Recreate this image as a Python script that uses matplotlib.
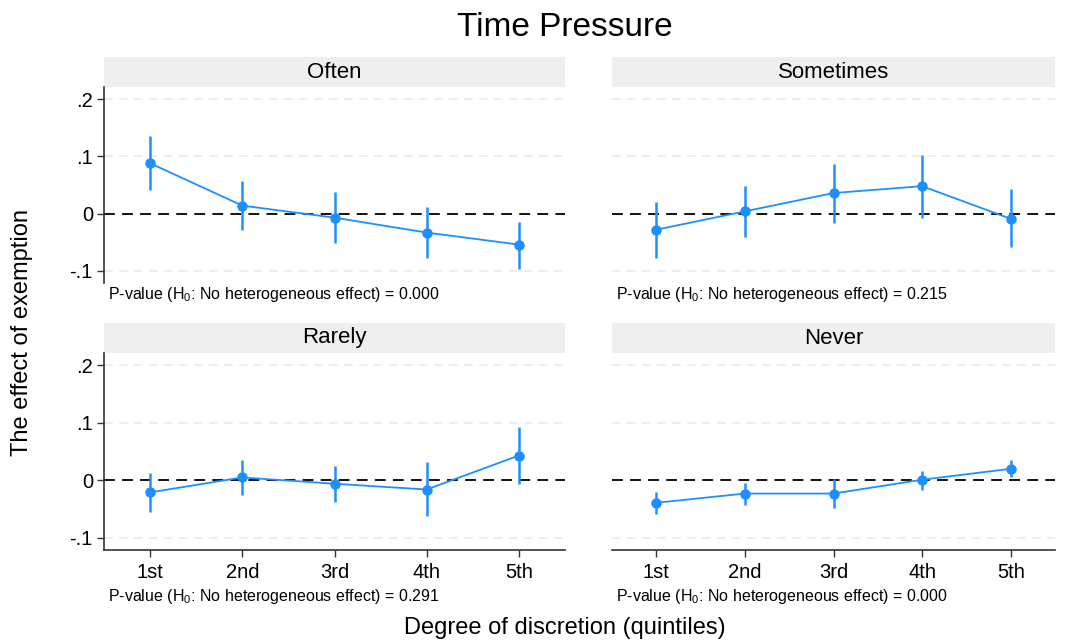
import matplotlib
matplotlib.use("Agg")
import matplotlib.pyplot as plt
import numpy as np

plt.rcParams['font.family'] = ['Liberation Sans', 'DejaVu Sans']
plt.rcParams['mathtext.default'] = 'regular'

quintiles = ["1st", "2nd", "3rd", "4th", "5th"]
panels = ["Often", "Sometimes", "Rarely", "Never"]
pvalues = ["0.000", "0.215", "0.291", "0.000"]

often_est = [0.088, 0.014, -0.007, -0.033, -0.054]
often_lo = [0.041, -0.028, -0.052, -0.078, -0.096]
often_hi = [0.136, 0.057, 0.037, 0.012, -0.014]

sometimes_est = [-0.028, 0.004, 0.036, 0.048, -0.009]
sometimes_lo = [-0.077, -0.040, -0.016, -0.007, -0.059]
sometimes_hi = [0.020, 0.048, 0.086, 0.102, 0.043]

rarely_est = [-0.021, 0.005, -0.006, -0.016, 0.043]
rarely_lo = [-0.055, -0.026, -0.037, -0.062, -0.007]
rarely_hi = [0.013, 0.035, 0.025, 0.031, 0.092]

never_est = [-0.039, -0.023, -0.023, 0.001, 0.020]
never_lo = [-0.058, -0.043, -0.048, -0.017, 0.005]
never_hi = [-0.021, -0.004, 0.003, 0.017, 0.036]

series = [
    (often_est, often_lo, often_hi),
    (sometimes_est, sometimes_lo, sometimes_hi),
    (rarely_est, rarely_lo, rarely_hi),
    (never_est, never_lo, never_hi),
]

yticks = [-0.1, 0, 0.1, 0.2]
ytick_labels = ["-.1", "0", ".1", ".2"]

W, H = 1067, 643
fig = plt.figure(figsize=(W / 100, H / 100), dpi=100)

def fx(px):
    return px / W

def fy(py):
    return 1 - py / H

blue = '#1E8FFF'
cols = [(104, 565), (612, 1055)]
rows = [(57, 87, 283), (323, 353, 550)]

for i, name in enumerate(panels):
    r, c = divmod(i, 2)
    x0, x1 = cols[c]
    s0, p0, p1 = rows[r]
    # strip
    sax = fig.add_axes([fx(x0), fy(p0), fx(x1 - x0), (p0 - s0) / H])
    sax.set_facecolor('#efefef')
    for sp in sax.spines.values():
        sp.set_visible(False)
    sax.set_xticks([]); sax.set_yticks([])
    sax.text(0.5, 0.5, name, ha='center', va='center', fontsize=16, transform=sax.transAxes)

    ax = fig.add_axes([fx(x0), fy(p1), fx(x1 - x0), (p1 - p0) / H])
    est, lo, hi = series[i]
    x = np.arange(1, 6)
    est = np.array(est); lo = np.array(lo); hi = np.array(hi)
    for t in [-0.1, 0.1, 0.2]:
        ax.axhline(t, color='#eaeaea', lw=1.2, ls=(0, (5, 4)), zorder=0)
    ax.axhline(0, color='black', lw=1.3, ls=(0, (6, 4)), zorder=1)
    ax.vlines(x, lo, hi, color=blue, lw=1.8, zorder=2)
    ax.plot(x, est, color=blue, lw=1.3, marker='o', ms=6.5, zorder=3)
    ax.set_xlim(0.5, 5.5)
    ax.set_ylim(-0.121, 0.221)
    for sp in ['top', 'right']:
        ax.spines[sp].set_visible(False)
    ax.spines['left'].set_visible(c == 0)
    ax.spines['bottom'].set_visible(r == 1)
    for sp in ['left', 'bottom']:
        ax.spines[sp].set_color('#333333')
        ax.spines[sp].set_linewidth(1.2)
    ax.set_yticks(yticks)
    if c == 0:
        ax.set_yticklabels(ytick_labels, fontsize=14.5)
        ax.tick_params(axis='y', length=5, width=1, color='#333333', pad=3)
    else:
        ax.tick_params(axis='y', left=False, labelleft=False)
    ax.set_xticks(x)
    if r == 1:
        ax.set_xticklabels(quintiles, fontsize=14.5)
        ax.tick_params(axis='x', length=5, width=1, color='#333333', pad=4)
    else:
        ax.tick_params(axis='x', bottom=False, labelbottom=False)
    ax.patch.set_alpha(0)

    ptext_y = 295 if r == 0 else 597
    fig.text(fx(x0 + 4), fy(ptext_y),
             "P-value (H$_0$: No heterogeneous effect) = " + pvalues[i],
             ha='left', va='center', fontsize=11.5)

fig.text(fx(565), fy(27), "Time Pressure", ha='center', va='center', fontsize=24)
fig.text(fx(22), fy(332), "The effect of exemption", ha='center', va='center',
         rotation=90, fontsize=17)
fig.text(fx(565), fy(628), "Degree of discretion (quintiles)", ha='center', va='center',
         fontsize=17)

fig.savefig("out.png", dpi=100, facecolor='white')
